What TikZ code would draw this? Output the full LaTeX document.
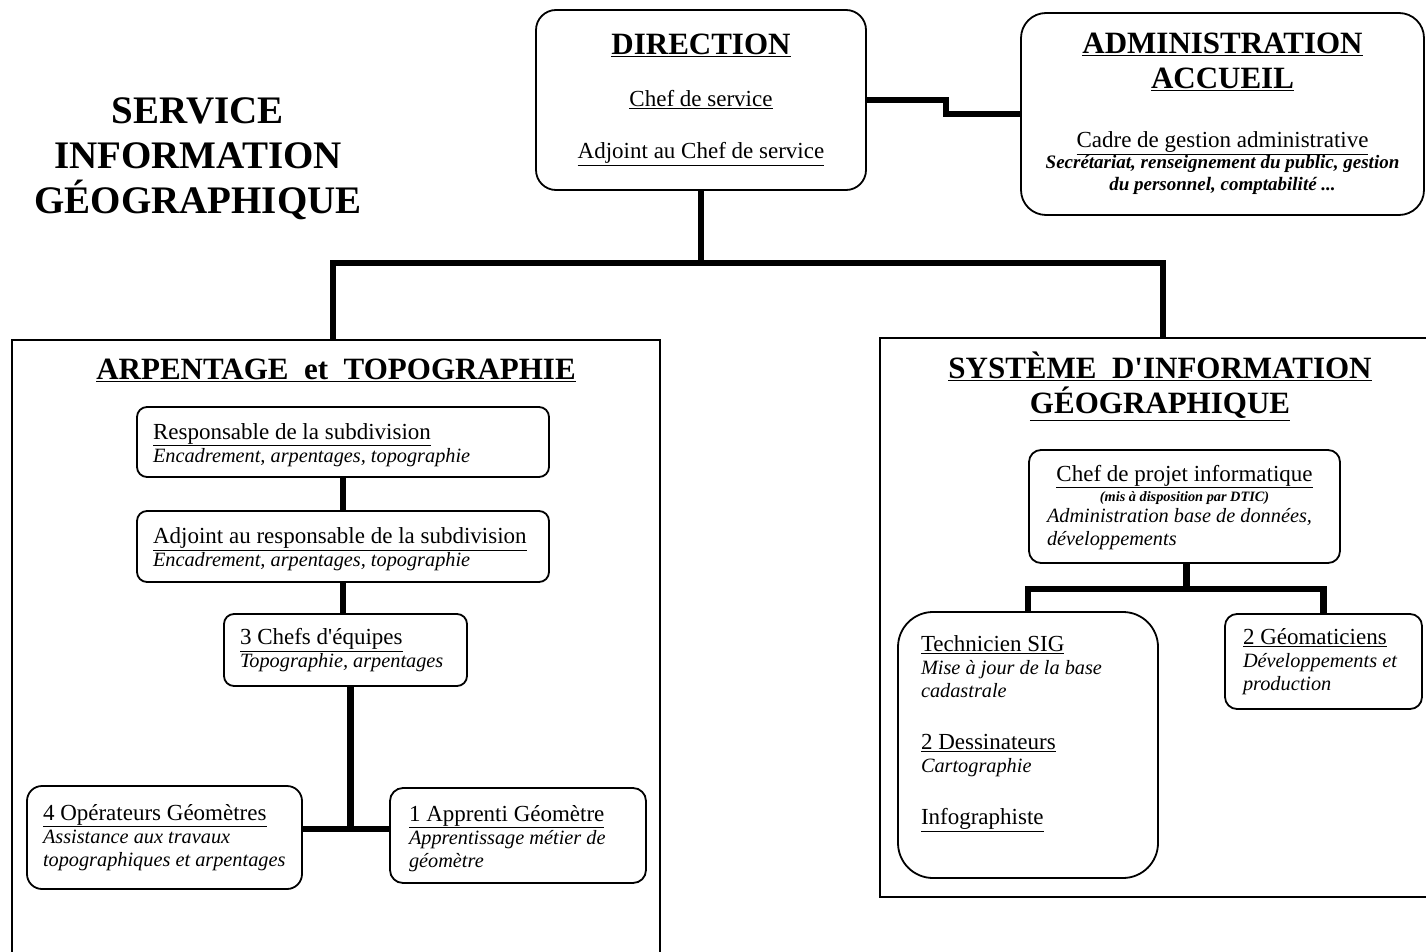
\documentclass[tikz,border=0pt]{standalone}
\usepackage{fontspec}
\setmainfont{Liberation Serif}
\usetikzlibrary{scopes}

\newcommand{\task}[1]{{\itshape\fontsize{20.3}{23}\selectfont #1}}
\newcommand{\remark}[1]{{\bfseries\itshape\fontsize{14.3}{16}\selectfont #1}}
\newcommand{\headline}[1]{{\upshape\bfseries\fontsize{31}{35}\selectfont\underline{#1}}}
\newcommand{\lift}{\rule{0pt}{22pt}}

\begin{document}
\begin{tikzpicture}[x=1pt,y=-1pt,
      bar/.style={line width=6.5pt},
      frame/.style={draw,line width=1.8pt,inner sep=0pt},
      post/.style={draw,line width=1.8pt,rounded corners=10pt,inner xsep=16pt,inner ysep=3pt},
      unit/.style={post,align=left,font=\fontsize{23}{23}\selectfont,
        execute at begin node={\spaceskip=0pt\xspaceskip=0pt}},
      heading/.style={align=center,font=\bfseries\fontsize{31}{35}\selectfont}
]
      \useasboundingbox (0,0) rectangle (1426,952);

      % title
      \node[align=center,font=\bfseries\fontsize{39}{45}\selectfont] (service) at (198,159)
          {SERVICE\\INFORMATION\\GÉOGRAPHIQUE};

      % direction and administration
      \node[post,rounded corners=20pt,align=center,minimum width=330pt,minimum height=180pt,
          font=\fontsize{23}{52}\selectfont] (dir) at (701,100)
          {\headline{DIRECTION}\\\underline{Chef de service}\\\underline{Adjoint au Chef de service}};
      \node[post,rounded corners=25pt,align=center,minimum width=403pt,minimum height=202pt,
          font=\bfseries\itshape\fontsize{19}{22}\selectfont] (admin) at (1222.5,114)
          {\headline{ADMINISTRATION}\\[11pt]\headline{ACCUEIL}\\[37pt]
           {\mdseries\upshape\fontsize{23}{23}\selectfont\underline{Cadre de gestion administrative}}\\[-1pt]
           Secrétariat, renseignement du public, gestion\\du personnel, comptabilité ...};

      % subdivisions
      \node[frame,minimum width=648pt,minimum height=630pt] (arpframe) at (336,655) {};
      \node[frame,minimum width=550pt,minimum height=559pt] (sigframe) at (1155,617.5) {};
      \node[heading] (arptitle) at (336,370) {\underline{ARPENTAGE\ \ et\ \ TOPOGRAPHIE}};
      \node[heading] (sigtitle) at (1160,386)
          {\underline{SYSTÈME\ \ D\textquotesingle INFORMATION}\\\underline{GÉOGRAPHIQUE}};

      % arpentage et topographie
      \node[unit,text width=380pt,minimum height=70pt] (resp) at (343,442)
          {\lift\underline{Responsable de la subdivision}\\\task{Encadrement, arpentages, topographie}};
      \node[unit,text width=380pt,minimum height=71pt] (adj) at (343,546.5)
          {\lift\underline{Adjoint au responsable de la subdivision}\\\task{Encadrement, arpentages, topographie}};
      \node[unit,text width=211pt,minimum height=72pt] (chefs) at (345.5,650)
          {\underline{3 Chefs d\textquotesingle équipes}\\\task{Topographie, arpentages}};
      \node[unit,rounded corners=15pt,inner xsep=16pt,text width=243pt,minimum height=103pt] (oper) at (164.5,837.5)
          {\underline{4 Opérateurs Géomètres}\\\task{Assistance aux travaux}\\\task{topographiques et arpentages}};
      \node[unit,rounded corners=13pt,inner xsep=19pt,text width=218pt,minimum height=95pt] (appr) at (518,835.5)
          {\lift\underline{1 Apprenti Géomètre}\\\task{Apprentissage métier de}\\\task{géomètre}};

      % systeme d'information geographique
      \node[unit,rounded corners=12pt,inner xsep=18pt,text width=275pt,minimum height=113pt] (projet) at (1184.5,506.5)
          {\rule{0pt}{18pt}\makebox[\hsize]{\underline{Chef de projet informatique}}\\[-3pt]
           \makebox[\hsize]{\remark{(mis à disposition par DTIC)}}\\[-2pt]
           \task{Administration base de données,}\\\task{développements}};
      \node[unit,rounded corners=35pt,inner xsep=23pt,text width=214pt,minimum height=266pt] (tech) at (1028,745)
          {\underline{Technicien SIG}\\\task{Mise à jour de la base}\\\task{cadastrale}\\[29pt]
           \underline{2 Dessinateurs}\\\task{Cartographie}\\[29pt]
           \underline{Infographiste}\rule[-30pt]{0pt}{30pt}};
      \node[unit,rounded corners=12pt,inner xsep=18pt,text width=161pt,minimum height=95pt] (geom) at (1323.5,661.5)
          {\underline{2 Géomaticiens}\\\task{Développements et}\\\task{production}};

      % connectors
      {[bar]
          \draw (dir.east) -- ++(79,0) |- (admin.west);
          \draw (dir.south) -- ++(0,72) coordinate (hub);
          \draw ([xshift=-3pt]arpframe.north) |- (hub) -| ([xshift=8pt]sigframe.north);
          \draw (resp.south) -- (adj.north);
          \draw (adj.south) -- (adj.south |- chefs.north);
          \draw ([xshift=5pt]chefs.south) -- ++(0,142) coordinate (split);
          \draw (oper.east |- split) -- (appr.west |- split);
          \draw ([xshift=2pt]projet.south) -- ++(0,25) coordinate (fork);
          \draw (tech.north) |- (fork) -| (geom.north);
      }
\end{tikzpicture}
\end{document}
